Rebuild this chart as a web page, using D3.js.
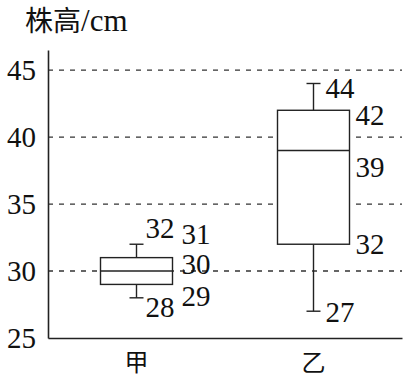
<!DOCTYPE html>
<html>
<head>
<meta charset="utf-8">
<script src="https://cdn.jsdelivr.net/npm/d3@7"></script>
<style>
  body { margin: 0; background: #fff; }
  svg { display: block; }
</style>
</head>
<body>
<svg id="chart"></svg>
<script>
const groups  = ['甲', '乙'];
const mins    = [28, 27];
const q1s     = [29, 32];
const medians = [30, 39];
const q3s     = [31, 42];
const maxs    = [32, 44];
const yTicks  = [25, 30, 35, 40, 45];
const yTitle  = '株高';
const yUnit   = '/cm';

const SERIF = '"Liberation Serif", "Times New Roman", serif';
const CJK   = '"Noto Sans CJK SC", "Noto Sans CJK JP", sans-serif';

const W = 406, H = 377;
const svg = d3.select('#chart').attr('width', W).attr('height', H);

const y = d3.scaleLinear().domain([25, 46.5]).range([338, 50]);
const x = d3.scaleBand().domain(groups).range([48, 402]).padding(0);
const cx = g => x(g) + x.bandwidth() / 2;
const boxW = 72, capW = 14;

// dashed grid lines
svg.append('g').selectAll('line')
  .data(yTicks.filter(t => t > 25))
  .join('line')
  .attr('x1', 48).attr('x2', 402)
  .attr('y1', d => y(d)).attr('y2', d => y(d))
  .attr('stroke', '#333').attr('stroke-width', 1.3)
  .attr('stroke-dasharray', '5,6');

// axes
const yAxisG = svg.append('g').attr('transform', 'translate(48,0)')
  .call(d3.axisLeft(y).tickValues(yTicks).tickSize(0).tickPadding(12).tickFormat(d3.format('d')));
yAxisG.attr('font-family', null);
yAxisG.select('.domain').attr('stroke', '#222').attr('stroke-width', 1.6);
yAxisG.selectAll('text').attr('dy', '0.33em')
  .style('font-family', SERIF).style('font-size', '29px').attr('fill', '#111');

const xAxisG = svg.append('g').attr('transform', `translate(0,${y(25)})`)
  .call(d3.axisBottom(x).tickSize(0).tickPadding(0));
xAxisG.attr('font-family', null);
xAxisG.select('.domain').attr('stroke', '#222').attr('stroke-width', 1.6);
xAxisG.selectAll('text').attr('dy', null).attr('y', 33)
  .style('font-family', CJK).style('font-size', '24px').attr('fill', '#111');

// axis title
const title = svg.append('text').attr('x', 25).attr('y', 31).attr('fill', '#111');
title.append('tspan').style('font-family', CJK).style('font-size', '28px').text(yTitle);
title.append('tspan').style('font-family', SERIF).style('font-size', '31px').text(yUnit);

// boxes
const rows = groups.map((g, i) => ({
  g, min: mins[i], q1: q1s[i], med: medians[i], q3: q3s[i], max: maxs[i]
}));

const box = svg.append('g').selectAll('g').data(rows).join('g')
  .attr('stroke', '#222').attr('stroke-width', 1.4).attr('fill', 'none');

box.append('line')
  .attr('x1', d => cx(d.g)).attr('x2', d => cx(d.g))
  .attr('y1', d => y(d.max)).attr('y2', d => y(d.min));
box.append('line')
  .attr('x1', d => cx(d.g) - capW / 2).attr('x2', d => cx(d.g) + capW / 2)
  .attr('y1', d => y(d.max)).attr('y2', d => y(d.max));
box.append('line')
  .attr('x1', d => cx(d.g) - capW / 2).attr('x2', d => cx(d.g) + capW / 2)
  .attr('y1', d => y(d.min)).attr('y2', d => y(d.min));
box.append('rect')
  .attr('x', d => cx(d.g) - boxW / 2).attr('width', boxW)
  .attr('y', d => y(d.q3)).attr('height', d => y(d.q1) - y(d.q3))
  .attr('fill', '#fff');
box.append('line')
  .attr('x1', d => cx(d.g) - boxW / 2).attr('x2', d => cx(d.g) + boxW / 2)
  .attr('y1', d => y(d.med)).attr('y2', d => y(d.med));

// value labels: where each one sits next to its box (layout only)
const labelLayout = {
  '甲': { max: ['w', 9, -16], q3: ['b', 9, -23], med: ['b', 9, -7], q1: ['b', 9, 12], min: ['w', 9, 10] },
  '乙': { max: ['w', 12, 5],  q3: ['b', 6, 5],   med: ['b', 6, 17], q1: ['b', 6, 0],  min: ['w', 12, 1] }
};
const labels = [];
rows.forEach(r => {
  ['max', 'q3', 'med', 'q1', 'min'].forEach(k => {
    const [ref, dx, dy] = labelLayout[r.g][k];
    const x0 = ref === 'w' ? cx(r.g) : cx(r.g) + boxW / 2;
    labels.push({ v: r[k], x: x0 + dx, y: y(r[k]) + dy });
  });
});
svg.append('g').selectAll('text').data(labels).join('text')
  .attr('x', d => d.x).attr('y', d => d.y).attr('dy', '0.33em')
  .style('font-family', SERIF).style('font-size', '29px').attr('fill', '#111')
  .text(d => d.v);
</script>
</body>
</html>
